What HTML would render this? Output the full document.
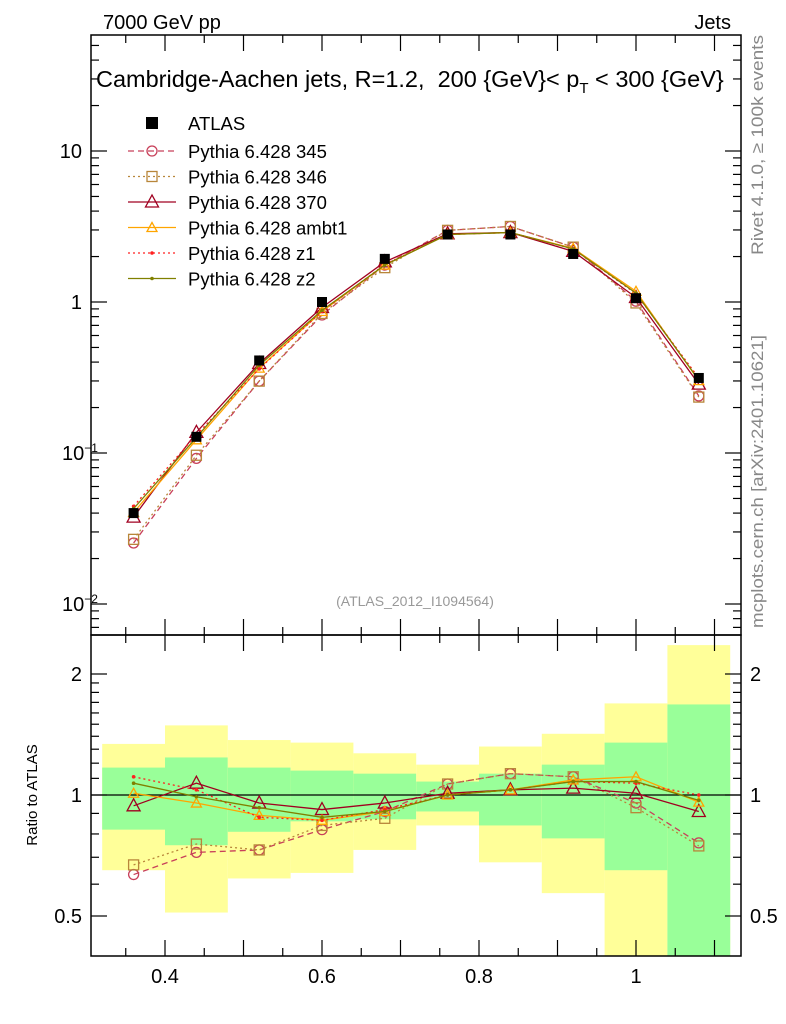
<!DOCTYPE html>
<html><head><meta charset="utf-8">
<style>
html,body{margin:0;padding:0;background:#fff;}
svg{display:block;font-family:"Liberation Sans",sans-serif;}
</style></head>
<body>
<svg id="chart" width="786" height="1024" viewBox="0 0 786 1024" xmlns="http://www.w3.org/2000/svg">
<text x="103" y="29" font-size="20">7000 GeV pp</text>
<text x="731" y="29" font-size="20" text-anchor="end">Jets</text>
<text transform="translate(763,255) rotate(-90)" font-size="17" fill="#888" textLength="220" lengthAdjust="spacingAndGlyphs">Rivet 4.1.0, ≥ 100k events</text>
<text transform="translate(763,628) rotate(-90)" font-size="17" fill="#888" textLength="293" lengthAdjust="spacingAndGlyphs">mcplots.cern.ch [arXiv:2401.10621]</text>
<g id="bands"></g>
<g id="main"></g>
<g id="ratio"></g>
<g id="axes"></g>
<text x="415" y="606" font-size="14" fill="#999" text-anchor="middle">(ATLAS_2012_I1094564)</text>
<text x="96" y="87" font-size="23.5" xml:space="preserve">Cambridge-Aachen jets, R=1.2,  200 {GeV}&lt; p<tspan font-size="15" dy="6">T</tspan><tspan dy="-6"> &lt; 300 {GeV}</tspan></text>
<text transform="translate(37,795) rotate(-90)" font-size="15" text-anchor="middle">Ratio to ATLAS</text>
<g id="legend"></g>
</svg>
<script>
const xCenters=[0.36,0.44,0.52,0.60,0.68,0.76,0.84,0.92,1.00,1.08];
const atlasValues=[0.040,0.128,0.41,1.0,1.93,2.8,2.8,2.08,1.06,0.314];
const yellowHi=[1.34,1.49,1.37,1.35,1.27,1.19,1.32,1.42,1.69,2.36];
const yellowLo=[0.65,0.51,0.62,0.64,0.73,0.84,0.68,0.57,0.3,0.3];
const greenHi=[1.17,1.24,1.17,1.15,1.13,1.08,1.13,1.19,1.35,1.68];
const greenLo=[0.82,0.75,0.81,0.86,0.87,0.91,0.84,0.78,0.65,0.3];
const r345=[0.634,0.72,0.73,0.82,0.91,1.065,1.13,1.11,0.955,0.76];
const r346=[0.67,0.755,0.73,0.84,0.875,1.065,1.13,1.11,0.93,0.747];
const r370=[0.94,1.07,0.955,0.92,0.955,1.01,1.03,1.04,1.01,0.91];
const rambt1=[1.01,0.955,0.89,0.865,0.91,1.0,1.03,1.09,1.11,0.96];
const rz1=[1.11,1.03,0.88,0.865,0.92,1.0,1.03,1.08,1.07,1.0];
const rz2=[1.07,0.99,0.93,0.88,0.91,1.0,1.03,1.08,1.08,0.97];
const xTicks=[0.4,0.6,0.8,1.0];
const xTickLabels=["0.4","0.6","0.8","1"];

const NS="http://www.w3.org/2000/svg";
const L=91,R=741,T=35,M=635,B=956;
const X=v=>165+(v-0.4)*785;
const Y=v=>302-Math.log10(v)*151;
const YR=v=>{v=Math.max(v,0.39);return 795-Math.log2(v)*121;};
function mk(parent,tag,attrs){const e=document.createElementNS(NS,tag);for(const k in attrs)e.setAttribute(k,attrs[k]);parent.appendChild(e);return e;}
const gB=document.getElementById('bands'),gM=document.getElementById('main'),gR=document.getElementById('ratio'),gA=document.getElementById('axes'),gL=document.getElementById('legend');

xCenters.forEach((x,i)=>{
  const x0=X(x-0.04),x1=X(x+0.04);
  const yt=Math.max(YR(yellowHi[i]),M),yb=Math.min(YR(yellowLo[i]),B);
  let r=mk(gB,'rect',{x:x0,y:yt,width:x1-x0,height:yb-yt,fill:'#ffff99'});
  
  
  const gt=Math.max(YR(greenHi[i]),M),gb=Math.min(YR(greenLo[i]),B);
  r=mk(gB,'rect',{x:x0,y:gt,width:x1-x0,height:gb-gt,fill:'#99ff99'});
  
  
});
let ln=mk(gB,'line',{x1:L,x2:R,y1:YR(1),y2:YR(1),stroke:'#000','stroke-width':1.2});



const series=[
 {name:'Pythia 6.428 345',r:r345,color:'#c8405a',dash:'6,4',marker:'circle'},
 {name:'Pythia 6.428 346',r:r346,color:'#b8863a',dash:'2,3',marker:'square'},
 {name:'Pythia 6.428 370',r:r370,color:'#a00020',dash:'',marker:'tri'},
 {name:'Pythia 6.428 ambt1',r:rambt1,color:'#ffa500',dash:'',marker:'tri-s'},
 {name:'Pythia 6.428 z1',r:rz1,color:'#ff2020',dash:'2,3',marker:'dot'},
 {name:'Pythia 6.428 z2',r:rz2,color:'#808000',dash:'',marker:'dot'}
];
function marker(g,m,x,y,c){
  let e;
  if(m==='circle')e=mk(g,'circle',{cx:x,cy:y,r:5,fill:'none',stroke:c,'stroke-width':1.3});
  else if(m==='square')e=mk(g,'rect',{x:x-5,y:y-5,width:10,height:10,fill:'none',stroke:c,'stroke-width':1.3});
  else if(m==='tri')e=mk(g,'polygon',{points:`${x},${y-7} ${x-6.5},${y+5} ${x+6.5},${y+5}`,fill:'none',stroke:c,'stroke-width':1.3});
  else if(m==='tri-s')e=mk(g,'polygon',{points:`${x},${y-5} ${x-5},${y+4} ${x+5},${y+4}`,fill:'none',stroke:c,'stroke-width':1.3});
  else e=mk(g,'circle',{cx:x,cy:y,r:1.8,fill:c});
  return e;
}
series.forEach((s,si)=>{
  const main=s.r.map((v,i)=>v*atlasValues[i]);
  let p=mk(gM,'polyline',{points:xCenters.map((x,i)=>X(x)+','+Y(main[i])).join(' '),fill:'none',stroke:s.color,'stroke-width':1.3,'stroke-dasharray':s.dash});
  
  
  p=mk(gR,'polyline',{points:xCenters.map((x,i)=>X(x)+','+YR(s.r[i])).join(' '),fill:'none',stroke:s.color,'stroke-width':1.3,'stroke-dasharray':s.dash});
  
  
  xCenters.forEach((x,i)=>{
    let e=marker(gM,s.marker,X(x),Y(main[i]),s.color);
    
    
    e=marker(gR,s.marker,X(x),YR(s.r[i]),s.color);
    
    
  });
});
xCenters.forEach((x,i)=>{
  const e=mk(gM,'rect',{x:X(x)-5,y:Y(atlasValues[i])-5,width:10,height:10,fill:'#000'});
  
  
});

let f=mk(gA,'rect',{x:L,y:T,width:R-L,height:M-T,fill:'none',stroke:'#000','stroke-width':1.5});


f=mk(gA,'rect',{x:L,y:M,width:R-L,height:B-M,fill:'none',stroke:'#000','stroke-width':1.5});


function tick(x1,y1,x2,y2){mk(gA,'line',{x1,y1,x2,y2,stroke:'#000','stroke-width':1.2});}
for(let d=-3;d<=1;d++){for(let k=1;k<10;k++){const v=k*Math.pow(10,d);const y=Y(v);if(y<T||y>M)continue;const len=k===1?16:8;tick(L,y,L+len,y);tick(R,y,R-len,y);}}
[[10,'10'],[1,'1'],[0.1,'10<tspan font-size="12" dy="-8">−1</tspan>'],[0.01,'10<tspan font-size="12" dy="-8">−2</tspan>']].forEach(([v,lab])=>{
  const t=mk(gA,'text',{x:v>=1?82:62,y:Y(v)+7,'font-size':20,'text-anchor':v>=1?'end':'start'});t.innerHTML=lab;
  
  
});
[0.5,0.6,0.7,0.8,0.9,1,1.1,1.2,1.3,1.4,1.5,1.6,1.7,1.8,1.9,2].forEach(v=>{const y=YR(v);const len=(v===0.5||v===1||v===2)?16:8;tick(L,y,L+len,y);tick(R,y,R-len,y);});
[[2,'2'],[1,'1'],[0.5,'0.5']].forEach(([v,lab])=>{
  let t=mk(gA,'text',{x:82,y:YR(v)+7,'font-size':20,'text-anchor':'end'});t.textContent=lab;
  
  
  t=mk(gA,'text',{x:750,y:YR(v)+7,'font-size':20});t.textContent=lab;
  
  
});
for(let v=0.35;v<1.13;v+=0.05){const x=X(v);const major=Math.abs(v*10-Math.round(v*10))<1e-6;const len=major?16:8;
  tick(x,B,x,B-len);tick(x,M,x,M-len);tick(x,T,x,T+len);tick(x,M,x,M+len);}
xTicks.forEach((v,i)=>{const t=mk(gA,'text',{x:X(v),y:983,'font-size':20,'text-anchor':'middle'});t.textContent=xTickLabels[i];
  
  });

const lx=152;
let e=mk(gL,'rect',{x:lx-6,y:117,width:12,height:12,fill:'#000'});


let t=mk(gL,'text',{x:188,y:130,'font-size':18.5});t.textContent='ATLAS';


series.forEach((s,i)=>{
  const y=151+i*25.5;
  mk(gL,'line',{x1:128,x2:176,y1:y,y2:y,stroke:s.color,'stroke-width':1.3,'stroke-dasharray':s.dash});
  marker(gL,s.marker,152,y,s.color);
  const tt=mk(gL,'text',{x:188,y:y+7,'font-size':18.5});tt.textContent=s.name;
  
  
});
</script>
</body></html>
